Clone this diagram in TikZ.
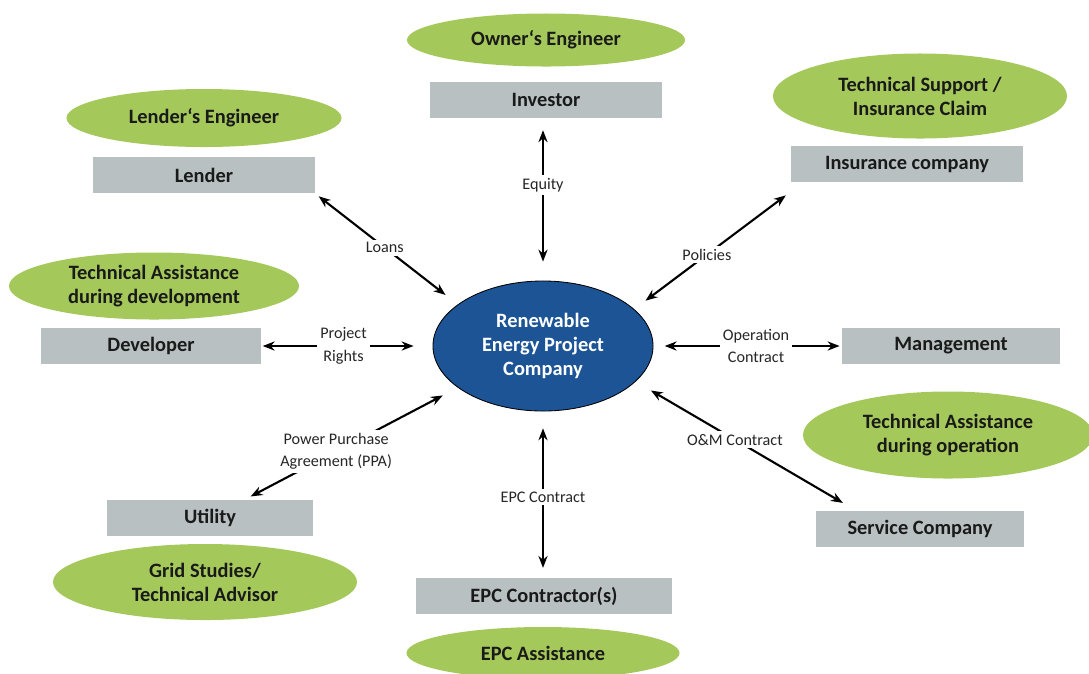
\documentclass[tikz,border=0pt]{standalone}
\usepackage{fontspec}
\setmainfont{Carlito}
\usetikzlibrary{shapes.geometric,arrows.meta}
\definecolor{hubblue}{HTML}{1C5496}
\definecolor{partygray}{HTML}{B8C0C2}
\definecolor{advgreen}{HTML}{A4C85A}
\definecolor{ink}{HTML}{1A1A1A}
\begin{document}
\begin{tikzpicture}[x=0.025cm,y=-0.025cm,>={Stealth[length=8.5pt,width=6.5pt]},
  party/.style={fill=partygray,minimum height=0.9cm,inner sep=0pt,text=ink,font=\fontsize{14.5}{17}\selectfont\bfseries},
  adviser/.style={ellipse,fill=advgreen,inner sep=0pt,align=center,text=ink,font=\fontsize{14.5}{17}\selectfont\bfseries},
  link/.style={<->,line width=1.5pt},
  lbl/.style={fill=white,inner sep=2pt,align=center,text=black!85,font=\fontsize{11.5}{16}\selectfont}]
\useasboundingbox (0,0) rectangle (1089,673);
\node[ellipse,draw=black,line width=0.6pt,fill=hubblue,text=white,align=center,minimum width=5.5cm,minimum height=3.25cm,font=\fontsize{14.5}{17}\selectfont\bfseries] (company) at (543,346) {Renewable\\Energy Project\\Company};
\node[party,minimum width=5.775cm] (investor) at (546,100) {Investor};
\node[party,minimum width=5.525cm] (lender) at (204,175) {Lender};
\node[party,minimum width=5.8cm] (insurance) at (907,164) {Insurance company};
\node[party,minimum width=5.5cm] (developer) at (151,346) {Developer};
\node[party,minimum width=5.45cm] (management) at (951,346) {Management};
\node[party,minimum width=5.15cm] (utility) at (210,518) {Utility};
\node[party,minimum width=5.175cm] (service) at (920,529) {Service Company};
\node[party,minimum width=6.4cm] (epc) at (544,596) {EPC Contractor(s)};
\node[adviser,minimum width=6.95cm,minimum height=1.325cm] (ownereng) at (546,40) {Owner‘s Engineer};
\node[adviser,minimum width=6.875cm,minimum height=1.45cm] (lendereng) at (204,118) {Lender‘s Engineer};
\node[adviser,minimum width=7.35cm,minimum height=2.125cm] (techsupport) at (920,96) {Technical Support /\\Insurance Claim};
\node[adviser,minimum width=7.25cm,minimum height=1.675cm] (devassist) at (154,286) {Technical Assistance\\during development};
\node[adviser,minimum width=7.25cm,minimum height=2.175cm] (opassist) at (948,435) {Technical Assistance\\during operation};
\node[adviser,minimum width=7.6cm,minimum height=1.9cm] (gridadv) at (205,582) {Grid Studies/\\Technical Advisor};
\node[adviser,minimum width=6.825cm,minimum height=1.3cm] (epcassist) at (543,653) {EPC Assistance};
\draw[link,shorten <=13.5pt,shorten >=8.5pt] (company.north) -- node[lbl,pos=0.59]{Equity} (investor.south -| company.north);
\draw[link,shorten <=11pt,shorten >=3.5pt] (company.154) -- node[lbl,pos=0.51]{Loans} (lender.south east);
\draw[link,shorten <=10pt,shorten >=15.5pt] (company.22) -- node[lbl,pos=0.43]{Policies} (insurance.190);
\draw[link,shorten <=13.5pt,shorten >=1pt] (company.west) -- node[lbl,pos=0.52]{Project\\Rights} (developer.east);
\draw[link,shorten <=8pt,shorten >=1.5pt] (company.east) -- node[lbl,pos=0.545]{Operation\\Contract} (management.west);
\draw[link,shorten <=12pt,shorten >=5pt] (company.206) -- node[lbl,pos=0.57]{Power Purchase\\Agreement (PPA)} (utility.28);
\draw[link,shorten <=12pt,shorten >=7pt] (company.south) -- node[lbl,pos=0.515]{EPC Contract} (epc.north -| company.south);
\draw[link,shorten <=12.5pt,shorten >=11pt] (company.339) -- node[lbl,pos=0.45]{O\&M Contract} (service.164);
\end{tikzpicture}
\end{document}
